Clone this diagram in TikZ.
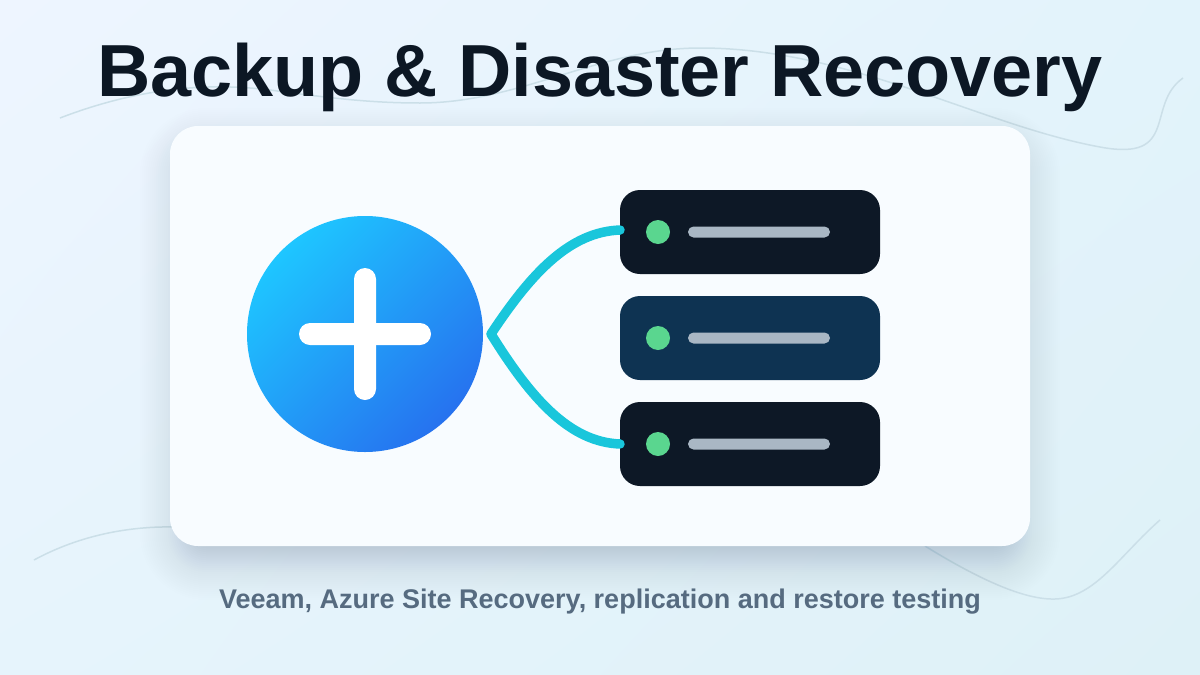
\documentclass[tikz,border=0pt]{standalone}
\usepackage{fontspec}
\usetikzlibrary{calc,shadings}
\setmainfont{Liberation Sans}
\definecolor{ink}{HTML}{0C1724}
\definecolor{rowdark}{HTML}{0D1826}
\definecolor{rowmid}{HTML}{0E3352}
\definecolor{teal}{HTML}{19C6DB}
\definecolor{dotg}{HTML}{5AD68F}
\definecolor{barc}{HTML}{A9B7C4}
\definecolor{subc}{HTML}{566B80}
\definecolor{wave}{HTML}{CBDFE8}
\definecolor{cardc}{HTML}{F8FCFF}
\definecolor{shadowc}{HTML}{5F7F9F}
\definecolor{hubA}{HTML}{1EC6FF}
\definecolor{hubB}{HTML}{2672EF}
\definecolor{bgA}{HTML}{EEF5FF}
\definecolor{bgB}{HTML}{E2F3FB}
\definecolor{bgC}{HTML}{E6F4FC}
\definecolor{bgD}{HTML}{DEF1F7}
\tikzset{
  x=1pt,y=-1pt,
  rowbox/.style={minimum width=260pt,minimum height=84pt,rounded corners=20pt,inner sep=0pt,outer sep=0pt},
  dotn/.style={circle,fill=dotg,minimum size=24pt,inner sep=0pt},
  barn/.style={minimum width=142pt,minimum height=11pt,rounded corners=5.5pt,fill=barc,inner sep=0pt},
  link/.style={draw=teal,line width=9.5pt,line cap=round,line join=round},
  wavy/.style={draw=wave,line width=1.5pt},
  plusbar/.style={fill=white,rounded corners=11pt},
}
\begin{document}
\begin{tikzpicture}
\useasboundingbox (0,0) rectangle (1200,675);
\shade[upper left=bgA,upper right=bgB,lower left=bgC,lower right=bgD]
  (0,0) rectangle (1200,675);
% background waves
\draw[wavy] (60,118) .. controls (120,95) and (190,80) .. (270,90)
  .. controls (330,98) and (370,103) .. (420,103)
  .. controls (520,103) and (600,48) .. (700,48)
  .. controls (850,48) and (980,125) .. (1100,147)
  .. controls (1180,162) and (1145,105) .. (1183,78);
\draw[wavy] (34,560) .. controls (80,535) and (130,526) .. (175,527);
\draw[wavy] (925,546) .. controls (980,580) and (1025,600) .. (1055,599)
  .. controls (1095,598) and (1120,555) .. (1160,520);
% card shadow
\foreach \g in {46,44,...,-30}{
  \pgfmathsetmacro{\rr}{max(2,30+\g)}
  \pgfmathsetmacro{\op}{0.001+0.026*((46-\g)/76)^1.5}
  \fill[shadowc,opacity=\op,rounded corners=\rr pt] (176-\g,144-\g) rectangle (1024+\g,564+\g);
}
\fill[cardc,rounded corners=28pt] (170,126) rectangle (1030,546);
\node[font=\bfseries,text=ink,inner sep=0pt,anchor=base] (title) at (600,96) {\fontsize{73.8}{74}\selectfont Backup \& Disaster Recovery};
\node[font=\bfseries,text=subc,inner sep=0pt,anchor=base] (sub) at (600,608) {\fontsize{27}{27}\selectfont Veeam, Azure Site Recovery, replication and restore testing};
% hub
\shade[top color=hubA,bottom color=hubB,shading angle=45] (365,334) circle (118);
\node[circle,minimum size=236pt,inner sep=0pt] (hub) at (365,334) {};
\fill[plusbar] (299,323) rectangle (431,345);
\fill[plusbar] (354,268) rectangle (376,400);
% rows
\node[rowbox,fill=rowdark] (r1) at (750,232) {};
\node[rowbox,fill=rowmid] (r2) at (750,338) {};
\node[rowbox,fill=rowdark] (r3) at (750,444) {};
\foreach \r in {1,2,3}{
  \node[dotn] (d\r) at ($(r\r.west)+(38,0)$) {};
  \node[barn] (b\r) at ($(r\r.west)+(139,0)$) {};
}
\coordinate (tip) at (491,334);
\coordinate (e1) at (620,230);
\coordinate (e3) at (620,444);
\draw[link] (e1) .. controls (570,232) and (532,272) .. (tip)
  .. controls (532,400) and (570,442) .. (e3);
\end{tikzpicture}
\end{document}
